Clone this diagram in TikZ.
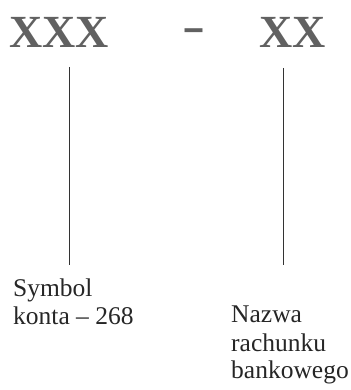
\documentclass[tikz,border=0pt]{standalone}
\usepackage{fontspec}
\setmainfont{Liberation Serif}
\begin{document}
\begin{tikzpicture}[x=1pt,y=1pt,
  big/.style={inner sep=0pt,font=\fontsize{46}{50}\selectfont\bfseries,text=black!62},
  lbl/.style={inner sep=0pt,font=\fontsize{25.5}{28}\selectfont,text=black!85,align=left},
  conn/.style={line width=0.9pt,draw=black!80}]
\useasboundingbox (0,0) rectangle (350,390);
\node[big,anchor=base west] (xxx) at (9,342) {XXX};
\node[big,anchor=base,xscale=1.5] (dash) at (194,348) {-};
\node[big,anchor=base west] (xx) at (259,342) {XX};
\node[lbl,anchor=base west] (sym) at (13,93) {Symbol};
\node[lbl,anchor=base west] (konta) at (13,65) {konta -- 268};
\node[lbl,anchor=base west] (naz) at (231,67) {Nazwa};
\node[lbl,anchor=base west] (rach) at (231,38) {rachunku};
\node[lbl,anchor=base west] (bank) at (231,12) {bankowego};
\coordinate (la) at (69,323);
\coordinate (lb) at (69,125);
\coordinate (ra) at (283,322);
\coordinate (rb) at (283,125);
\draw[conn] (la) -- (lb);
\draw[conn] (ra) -- (rb);
\end{tikzpicture}
\end{document}
